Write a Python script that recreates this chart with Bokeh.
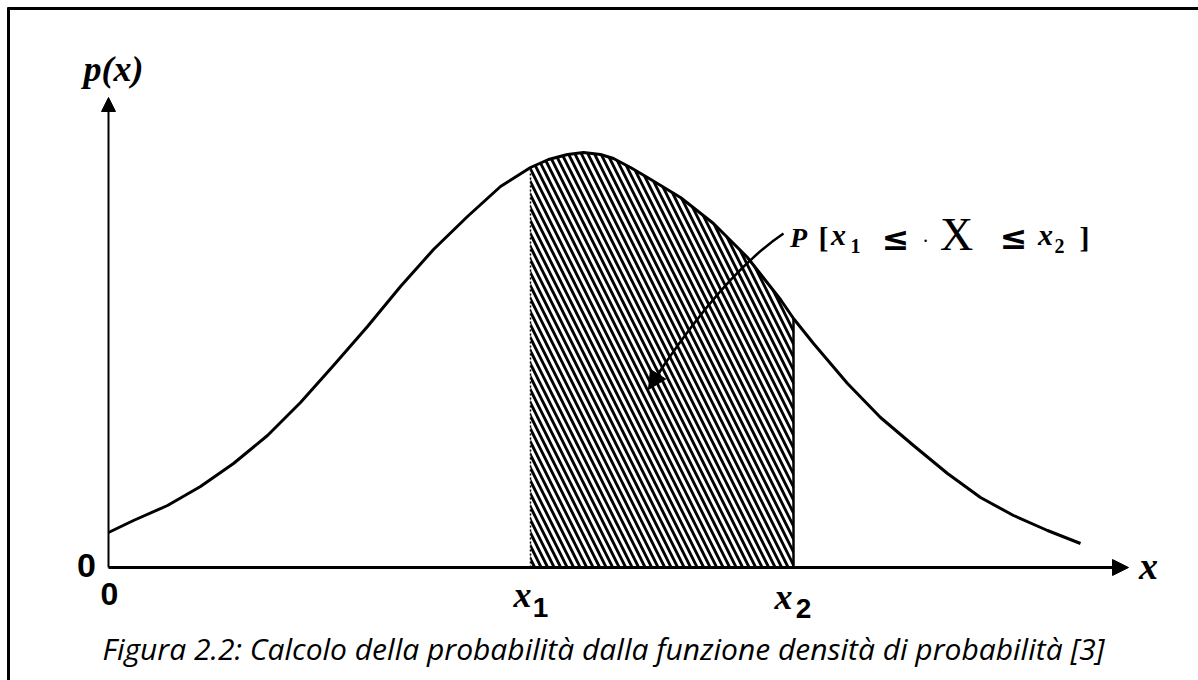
from bokeh.plotting import figure
from bokeh.models import Range1d, Arrow, NormalHead, Label
from bokeh.embed import file_html
from bokeh.resources import INLINE

# ---- density curve p(x), read point by point (x in abscissa units, y in density units)
curve_x = [0.00, 0.25, 0.59, 0.92, 1.25, 1.59, 1.92, 2.25, 2.59, 2.92, 3.25, 3.59,
           3.92, 4.22, 4.40, 4.59, 4.75, 4.92, 5.05, 5.22, 5.39, 5.72, 6.05, 6.39,
           6.72, 6.85, 7.05, 7.39, 7.72, 8.05, 8.39, 8.72, 9.05, 9.39, 9.72]
curve_y = [0.035, 0.047, 0.062, 0.081, 0.104, 0.132, 0.165, 0.202, 0.241, 0.281, 0.318, 0.351,
           0.381, 0.400, 0.408, 0.413, 0.415, 0.413, 0.409, 0.400, 0.390, 0.370, 0.344, 0.310,
           0.268, 0.249, 0.224, 0.184, 0.150, 0.122, 0.094, 0.070, 0.052, 0.037, 0.024]

# interval limits of the shaded probability
x1 = 4.22
x2 = 6.85

caption = "Figura 2.2: Calcolo della probabilità dalla funzione densità di probabilità [3]"

# ---- page geometry: pixel position of the origin and pixels per unit
W, H = 1198, 680
X0, XS = 108, 100.0
Y0, YS = 567, 1000.0


def dx(px):
    return (px - X0) / XS


def dy(py):
    return (Y0 - py) / YS


p = figure(width=W, height=H,
           x_range=Range1d(dx(0), dx(W)), y_range=Range1d(dy(H), dy(0)),
           output_backend="svg", toolbar_location=None,
           x_axis_location=None, y_axis_location=None,
           min_border_left=0, min_border_right=0, min_border_top=0, min_border_bottom=0)
p.grid.visible = False
p.outline_line_color = None
p.background_fill_color = "white"
p.border_fill_color = "white"

# frame lines (top and left)
p.line(x=[dx(7), dx(W)], y=[dy(8), dy(8)], line_color="black", line_width=3)
p.line(x=[dx(8), dx(8)], y=[dy(7), dy(H)], line_color="black", line_width=3)

# ---- hatched area between x1 and x2
sx = [x1] + [x for x in curve_x if x1 < x < x2] + [x2]
sy = [curve_y[curve_x.index(x1)]] + [y for x, y in zip(curve_x, curve_y) if x1 < x < x2] \
     + [curve_y[curve_x.index(x2)]]
p.varea(x=sx, y1=[0] * len(sx), y2=sy, fill_color="white",
        hatch_pattern="\\", hatch_color="black", hatch_weight=2.8, hatch_scale=13)
p.line(x=[x1, x1], y=[0, sy[0]], line_color="black", line_width=1.5, line_dash="2 2")
p.line(x=[x2, x2], y=[0, sy[-1]], line_color="black", line_width=2.5)

# ---- density curve
p.line(x=curve_x, y=curve_y, line_color="black", line_width=3, line_join="round")

# ---- axes with arrow heads
p.add_layout(Arrow(end=NormalHead(size=16, fill_color="black", line_color="black"),
                   x_start=0, y_start=0, x_end=dx(1128), y_end=0,
                   line_color="black", line_width=3))
p.add_layout(Arrow(end=NormalHead(size=14, fill_color="black", line_color="black"),
                   x_start=0, y_start=0, x_end=0, y_end=dy(97),
                   line_color="black", line_width=2))

# ---- pointer from the annotation into the shaded region
p.quadratic(x0=dx(783), y0=dy(233), x1=dx(650), y1=dy(385), cx=dx(722), cy=dy(274),
            line_color="black", line_width=2.5)
p.add_layout(Arrow(end=NormalHead(size=18, fill_color="black", line_color="black"),
                   x_start=dx(660), y_start=dy(370), x_end=dx(648), y_end=dy(389),
                   line_color="black", line_width=2.5))

SERIF = "Liberation Serif"
SANS = "Liberation Sans"
MATH = "DejaVu Sans"


def lab(text, px, py, size, font=SERIF, style="bold italic", align="center"):
    p.add_layout(Label(x=dx(px), y=dy(py), text=text, text_font=font,
                       text_font_size=f"{size}px", text_font_style=style,
                       text_align=align, text_baseline="middle", text_color="black"))


# axis labels
lab("p(x)", 113, 68, 36)
lab("x", 1148, 565, 38)
lab("0", 86, 565, 34, font=SANS, style="bold")
lab("0", 109, 593, 32, font=SANS, style="bold")
lab("x", 522, 594, 36)
lab("1", 540, 607, 28, font=SANS, style="bold")
lab("x", 783, 596, 36)
lab("2", 803, 608, 28, font=SANS, style="bold")

# annotation P[x1 <= X <= x2]
lab("P", 798, 237, 28)
lab("[", 823, 237, 30, style="bold")
lab("x", 838, 234, 30)
lab("1", 855, 245, 20, style="bold")
lab("≤", 895, 238, 33, font=MATH, style="bold")
lab("·", 925, 240, 20, style="normal")
lab("X", 956, 234, 46, style="normal")
lab("≤", 1013, 237, 33, font=MATH, style="bold")
lab("x", 1045, 234, 30)
lab("2", 1059, 245, 20, style="bold")
lab("]", 1084, 237, 30, style="bold")

# caption
lab(caption, 603, 648, 30, font="Open Sans", style="italic")

open("out.html", "w").write(file_html(p, INLINE))
